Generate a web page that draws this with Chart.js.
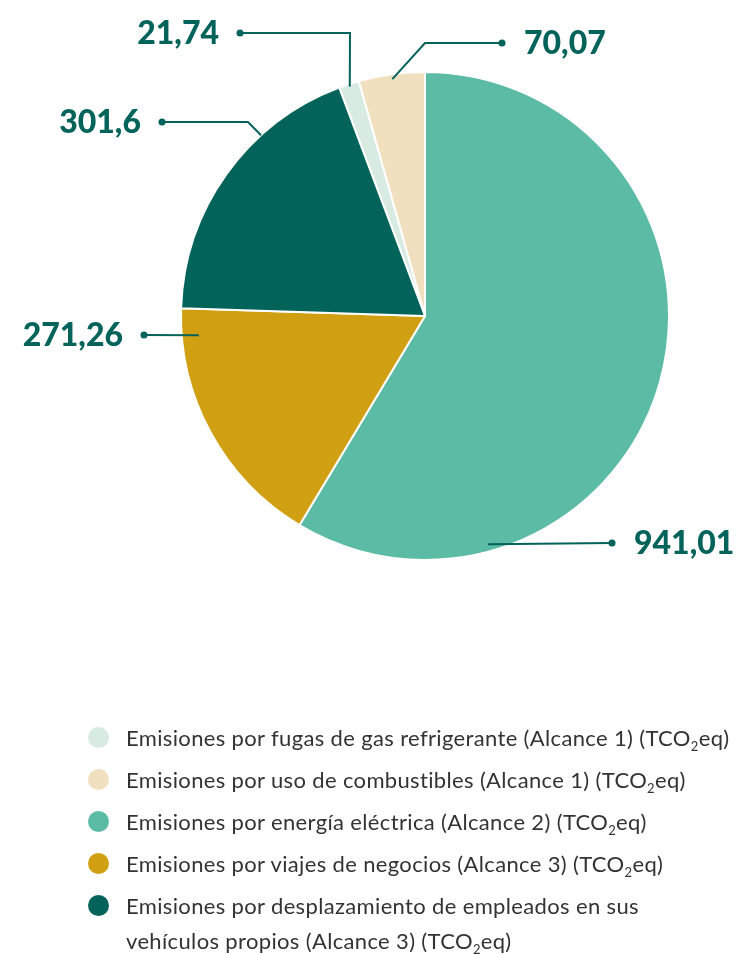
<!DOCTYPE html>
<html>
<head>
<meta charset="utf-8">
<script src="https://cdn.jsdelivr.net/npm/chart.js@4/dist/chart.umd.min.js"></script>
<style>
  html, body { margin: 0; padding: 0; background: #fff; }
  #wrap { position: relative; width: 744px; height: 954px; }
  #chart { position: absolute; left: 0; top: 0; }
  #legend {
    position: absolute; left: 88px; top: 720px;
    font-family: Lato, sans-serif; font-size: 22px; letter-spacing: 0.35px; color: #333;
  }
  .item { display: flex; align-items: flex-start; margin-bottom: 7px; line-height: 35px; white-space: nowrap; }
  .dot { width: 21px; height: 21px; border-radius: 50%; margin: 7px 17px 0 0; flex: none; }
  sub { font-size: 13px; line-height: 0; vertical-align: -5px; }
</style>
</head>
<body>
<div id="wrap">
  <canvas id="chart" width="744" height="954"></canvas>
  <div id="legend"></div>
</div>
<script>
const labels = [
  'Emisiones por fugas de gas refrigerante (Alcance 1) (TCO<sub>2</sub>eq)',
  'Emisiones por uso de combustibles (Alcance 1) (TCO<sub>2</sub>eq)',
  'Emisiones por energía eléctrica (Alcance 2) (TCO<sub>2</sub>eq)',
  'Emisiones por viajes de negocios (Alcance 3) (TCO<sub>2</sub>eq)',
  'Emisiones por desplazamiento de empleados en sus<br>vehículos propios (Alcance 3) (TCO<sub>2</sub>eq)',
];
const values = [21.74, 70.07, 941.01, 271.26, 301.6];
const colors = ['#d8ebe3', '#f0e0bf', '#5bbba4', '#d19f12', '#02635a'];

// callout layout per slice: where on the slice the line starts (t along the arc, k of radius),
// optional elbow, the dot and which side the number goes
const callouts = [
  { t: 0.5, k: 0.99, elbow: [350, 33], dot: [240, 33], side: 'left' },
  { t: 0.5, k: 0.98, elbow: [425, 43], dot: [502, 43], side: 'right' },
  { t: 0.78, k: 0.97, elbow: null, dot: [612, 543], side: 'right' },
  { t: 0.89, k: 0.93, elbow: null, dot: [144, 335], side: 'left' },
  { t: 0.68, k: 1.0, elbow: [248, 122], dot: [162, 122], side: 'left' },
];

const total = values.reduce((a, b) => a + b, 0);
const rotation = -(values[0] + values[1]) / total * 360;

const fmt = v => String(v).replace('.', ',');

const calloutPlugin = {
  id: 'callouts',
  afterDraw(chart) {
    const ctx = chart.ctx;
    const arcs = chart.getDatasetMeta(0).data;
    ctx.save();
    ctx.strokeStyle = '#02635a';
    ctx.fillStyle = '#02635a';
    ctx.lineWidth = 2;
    arcs.forEach((arc, i) => {
      const c = callouts[i];
      const p = arc.getProps(['x', 'y', 'startAngle', 'endAngle', 'outerRadius'], true);
      const a = p.startAngle + c.t * (p.endAngle - p.startAngle);
      const ax = p.x + Math.cos(a) * p.outerRadius * c.k;
      const ay = p.y + Math.sin(a) * p.outerRadius * c.k;
      ctx.beginPath();
      ctx.moveTo(ax, ay);
      if (c.elbow) ctx.lineTo(c.elbow[0], c.elbow[1]);
      ctx.lineTo(c.dot[0], c.dot[1]);
      ctx.stroke();
      ctx.beginPath();
      ctx.arc(c.dot[0], c.dot[1], 3.5, 0, Math.PI * 2);
      ctx.fill();
      ctx.font = '900 32px Lato, sans-serif';
      ctx.textBaseline = 'middle';
      if (c.side === 'left') {
        ctx.textAlign = 'right';
        ctx.fillText(fmt(values[i]), c.dot[0] - 21, c.dot[1] + 1);
      } else {
        ctx.textAlign = 'left';
        ctx.fillText(fmt(values[i]), c.dot[0] + 22, c.dot[1] + 1);
      }
    });
    ctx.restore();
  }
};

new Chart(document.getElementById('chart'), {
  type: 'pie',
  data: {
    labels: labels,
    datasets: [{
      data: values,
      backgroundColor: colors,
      borderColor: '#ffffff',
      borderWidth: 2,
    }]
  },
  options: {
    responsive: false,
    animation: false,
    rotation: rotation,
    layout: { padding: { left: 180, right: 74, top: 71, bottom: 393 } },
    plugins: {
      legend: { display: false },
      tooltip: { enabled: false },
    }
  },
  plugins: [calloutPlugin]
});

const legend = document.getElementById('legend');
labels.forEach((l, i) => {
  const row = document.createElement('div');
  row.className = 'item';
  row.innerHTML = '<span class="dot" style="background:' + colors[i] + '"></span><span>' + l + '</span>';
  legend.appendChild(row);
});
</script>
</body>
</html>
